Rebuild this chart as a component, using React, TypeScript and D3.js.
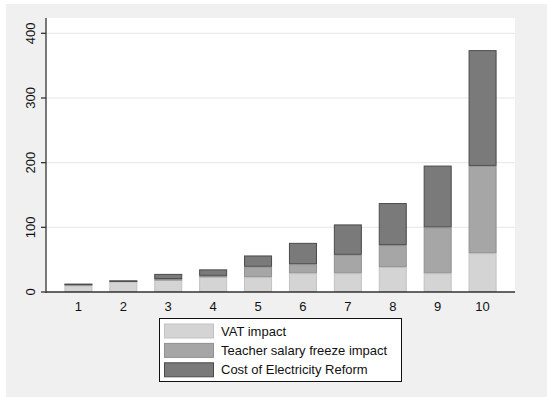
import React from "react";
import * as d3 from "d3";

// Deciles on the x axis
const categories = ["1", "2", "3", "4", "5", "6", "7", "8", "9", "10"];
// Stacked components, bottom to top
const vatImpact = [10, 17, 19, 24, 23, 29, 29, 38.5, 29, 60];
const salaryFreeze = [2, 0.5, 1, 1, 16, 14, 28.5, 34, 71, 135];
const electricityReform = [1, 0.5, 8, 10, 17.5, 33, 47, 65, 95.5, 179];
const yTicks = [0, 100, 200, 300, 400];

const seriesNames = ["VAT impact", "Teacher salary freeze impact", "Cost of Electricity Reform"];
const fills = ["#d4d4d4", "#a6a6a6", "#7a7a7a"];
const strokes = ["#c2c2c2", "#909090", "#4a4a4a"];

const W = 547;
const H = 397;
const plot = { left: 46, right: 515, top: 18, bottom: 292 };
const font = "'Liberation Sans', Arial, sans-serif";

export default function App() {
  const rows = categories.map((c, i) => ({
    cat: c,
    vat: vatImpact[i],
    salary: salaryFreeze[i],
    elec: electricityReform[i],
  }));
  const keys = ["vat", "salary", "elec"];
  const stacked = d3.stack<any>().keys(keys)(rows);

  const x = d3
    .scaleBand<string>()
    .domain(categories)
    .range([plot.left, plot.right])
    .paddingInner(0.376)
    .paddingOuter(0.41);
  const y = d3.scaleLinear().domain([0, 400]).range([plot.bottom, plot.bottom - 400 * 0.6467]);

  const legend = { x: 159.5, y: 318.5, w: 242, h: 63 };

  return (
    <svg
      width={W}
      height={H}
      style={{ position: "absolute", left: 0, top: 0 }}
      fontFamily={font}
    >
      <rect x={0} y={0} width={W} height={H} fill="#ffffff" />
      <rect x={6} y={4} width={W - 6} height={H - 4} fill="#f0f0f0" />
      <rect
        x={plot.left}
        y={plot.top}
        width={plot.right - plot.left}
        height={plot.bottom - plot.top}
        fill="#ffffff"
      />
      {/* horizontal grid */}
      {yTicks
        .filter((t) => t > 0)
        .map((t) => (
          <line
            key={"g" + t}
            x1={plot.left}
            x2={plot.right}
            y1={y(t)}
            y2={y(t)}
            stroke="#e6e6e6"
            strokeWidth={1}
          />
        ))}
      {/* bars */}
      {stacked.map((layer, li) => (
        <g key={layer.key}>
          {layer.map((d, i) => {
            const y0 = y(d[0]);
            const y1 = y(d[1]);
            const h = y0 - y1;
            if (h <= 0) return null;
            return (
              <rect
                key={i}
                x={(x(categories[i]) as number) + 0.5}
                y={y1 + 0.5}
                width={x.bandwidth() - 1}
                height={Math.max(h - 1, 0.5)}
                fill={fills[li]}
                stroke={strokes[li]}
                strokeWidth={1}
              />
            );
          })}
        </g>
      ))}
      {/* axes */}
      <line x1={plot.left} x2={plot.left} y1={plot.top} y2={plot.bottom + 1} stroke="#333" strokeWidth={1.3} />
      <line x1={plot.left} x2={plot.right} y1={plot.bottom} y2={plot.bottom} stroke="#333" strokeWidth={1.3} />
      {yTicks.map((t) => (
        <g key={"t" + t}>
          <line x1={plot.left - 5} x2={plot.left} y1={y(t)} y2={y(t)} stroke="#333" strokeWidth={1.3} />
          <text
            transform={`translate(${34.5},${y(t)}) rotate(-90)`}
            textAnchor="middle"
            fontSize={13}
            fill="#111"
          >
            {t}
          </text>
        </g>
      ))}
      {categories.map((c) => (
        <text
          key={"x" + c}
          x={(x(c) as number) + x.bandwidth() / 2}
          y={311}
          textAnchor="middle"
          fontSize={13}
          fill="#111"
        >
          {c}
        </text>
      ))}
      {/* legend */}
      <rect x={legend.x} y={legend.y} width={legend.w} height={legend.h} fill="#ffffff" stroke="#111" strokeWidth={1} />
      {seriesNames.map((name, i) => (
        <g key={name}>
          <rect
            x={164.5}
            y={324 + i * 19.4}
            width={49}
            height={14}
            fill={fills[i]}
            stroke={strokes[i]}
            strokeWidth={1}
          />
          <text x={221} y={335.5 + i * 19.4} fontSize={13} fill="#111">
            {name}
          </text>
        </g>
      ))}
    </svg>
  );
}
